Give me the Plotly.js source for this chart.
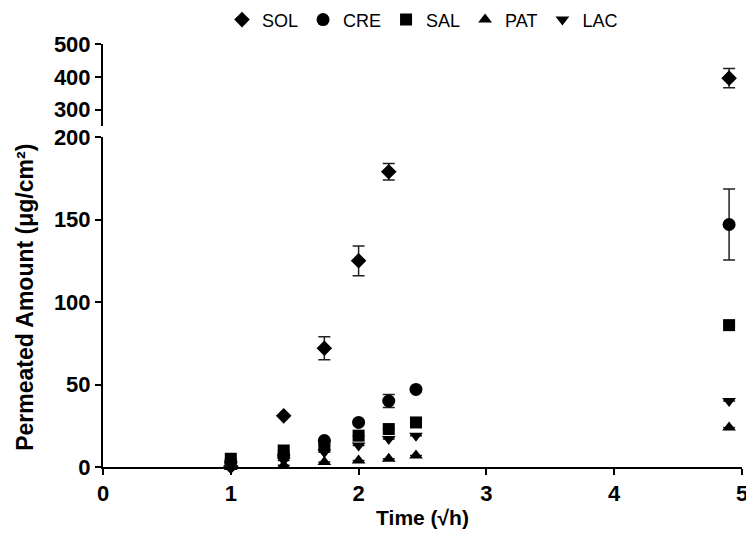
<!DOCTYPE html>
<html><head><meta charset="utf-8">
<script src="https://cdn.plot.ly/plotly-3.0.1.min.js"></script>
<style>body{margin:0;background:#fff}#chart{width:746px;height:534px}</style>
</head><body><div id="chart"></div>
<script>
const timeSqrtH = [1, 1.414, 1.732, 2, 2.236, 2.449, 4.899];
const seriesNames = ["SOL", "CRE", "SAL", "PAT", "LAC"];
const SOL = [0.5, 31, 72, 125, 179, null, 396];
const SOL_err = [0, 0, 7, 9, 5, 0, 29];
const CRE = [3, 7, 16, 27, 40, 47, 147];
const CRE_err = [0, 0, 0, 0, 4, 0, 21.5];
const SAL = [5, 10, 13, 19, 23, 27, 86];
const SAL_err = [0, 0, 0, 0, 0, 0, 0];
const PAT = [0, 1, 3, 4, 5, 7, 24];
const PAT_err = [0, 0, 0, 0, 0, 0, 0];
const LAC = [1, 4, 9, 13, 17, 19, 40];
const LAC_err = [0, 0, 0, 0, 0, 0, 0];
const yTicksLower = [0, 50, 100, 150, 200];
const yTicksUpper = [300, 400, 500];
const xTicks = [0, 1, 2, 3, 4, 5];

const seriesVals = [SOL, CRE, SAL, PAT, LAC];
const seriesErr = [SOL_err, CRE_err, SAL_err, PAT_err, LAC_err];
const symbols = ["diamond", "circle", "square", "triangle-up", "triangle-down"];
const sizes = [12, 13, 12, 12, 12];
const breakVal = 250;
const font = "Liberation Sans";

const traces = [];
seriesNames.forEach((nm, i) => {
  ["lower", "upper"].forEach(part => {
    const xs = [], ys = [], es = [];
    timeSqrtH.forEach((t, j) => {
      const v = seriesVals[i][j];
      if (v === null) return;
      if ((part === "lower" && v <= 200) || (part === "upper" && v > breakVal)) {
        xs.push(t); ys.push(v); es.push(seriesErr[i][j]);
      }
    });
    if (!xs.length) return;
    traces.push({
      x: xs, y: ys, type: "scatter", mode: "markers", name: nm,
      yaxis: part === "lower" ? "y" : "y2",
      showlegend: part === "lower", legendgroup: nm,
      cliponaxis: false,
      marker: {symbol: symbols[i], size: sizes[i], color: "#000"},
      error_y: {type: "data", array: es, visible: true, color: "#222", thickness: 1.5, width: 6}
    });
  });
});

const axisCommon = {
  showline: true, linewidth: 2, linecolor: "#000", ticks: "outside", ticklen: 6, tickwidth: 2,
  tickcolor: "#000", showgrid: false, zeroline: false, ticklabeloverflow: "allow",
  tickfont: {family: font, size: 22, color: "#000", weight: "bold"}
};

const layout = {
  width: 746, height: 534,
  margin: {l: 103, r: 4, t: 44, b: 67, autoexpand: false},
  paper_bgcolor: "#fff", plot_bgcolor: "#fff",
  showlegend: true,
  legend: {orientation: "h", x: 0.5, xanchor: "center", y: 1.057, yanchor: "middle",
    font: {family: font, size: 18, color: "#000"}, itemwidth: 20, tracegroupgap: 0},
  xaxis: Object.assign({}, axisCommon, {range: [0, 5], tickvals: xTicks,
    title: {text: "Time (√h)", font: {family: font, size: 21, color: "#000", weight: "bold"}, standoff: 5}}),
  yaxis: Object.assign({}, axisCommon, {domain: [0, 0.78], range: [0, 200], tickvals: yTicksLower, anchor: "x"}),
  yaxis2: Object.assign({}, axisCommon, {domain: [0.806, 1], range: [breakVal, 500], tickvals: yTicksUpper, anchor: "x"}),
  annotations: [{
    text: "Permeated Amount (μg/cm²)", xref: "paper", yref: "paper",
    x: -0.122, y: 0.40, xanchor: "center", yanchor: "middle", textangle: -90, showarrow: false,
    font: {family: font, size: 23, color: "#000", weight: "bold"}
  }]
};

Plotly.newPlot("chart", traces, layout, {displayModeBar: false, staticPlot: true});
</script></body></html>
